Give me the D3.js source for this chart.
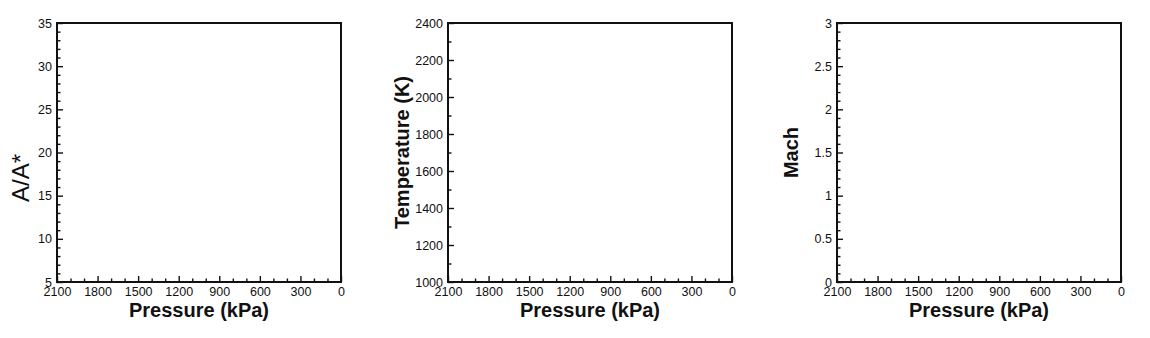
<!DOCTYPE html>
<html>
<head>
<meta charset="utf-8">
<script src="https://cdn.jsdelivr.net/npm/d3@7"></script>
<style>
  body { margin: 0; background: #fff; }
  svg text { font-family: "Liberation Sans", Arial, sans-serif; fill: #111; }
  .tick line, .minor line { stroke: #111; stroke-width: 1.4; }
</style>
</head>
<body>
<div id="chart"></div>
<script>
// shared x axis (pressure, reversed)
var pressureDomain = [2100, 0];
var pressureTicks = [2100, 1800, 1500, 1200, 900, 600, 300, 0];
var pressureMinorStep = 100;

// y axes for the three panels
var yTitles = ["A/A*", "Temperature (K)", "Mach"];
var yDomains = [[5, 35], [1000, 2400], [0, 3]];
var yTicks = [
  [5, 10, 15, 20, 25, 30, 35],
  [1000, 1200, 1400, 1600, 1800, 2000, 2200, 2400],
  [0, 0.5, 1, 1.5, 2, 2.5, 3]
];
var yMinorStep = [1, 100, 0.1];
var yTitleBold = [false, true, true];

(function(){

var width = 1150, height = 338;

var svg = d3.select("#chart")
  .append("svg")
  .attr("width", width)
  .attr("height", height);

// panel frames (left edges), all share the same top/bottom
var panelLeft = [57, 448, 837];
var pw = 284, plotTop = 23, plotBottom = 282;

function range(a, b, step) {
  var out = [];
  var n = Math.round((b - a) / step);
  for (var i = 0; i <= n; i++) out.push(+(a + i * step).toFixed(6));
  return out;
}

yTitles.forEach(function(title, k) {
  var g = svg.append("g").attr("transform", "translate(" + panelLeft[k] + ",0)");

  var x = d3.scaleLinear().domain(pressureDomain).range([0, pw]);
  var y = d3.scaleLinear().domain(yDomains[k]).range([plotBottom, plotTop]);

  // minor ticks first
  var xMinor = range(0, 2100, pressureMinorStep).filter(function(v) { return pressureTicks.indexOf(v) < 0; });
  g.append("g")
    .attr("class", "minor")
    .attr("transform", "translate(0," + plotBottom + ")")
    .call(d3.axisBottom(x).tickValues(xMinor).tickSize(-3.5).tickFormat(""))
    .call(function(s) { s.select(".domain").remove(); });

  var yMinor = range(yDomains[k][0], yDomains[k][1], yMinorStep[k]).filter(function(v) {
    return yTicks[k].indexOf(v) < 0;
  });
  g.append("g")
    .attr("class", "minor")
    .call(d3.axisLeft(y).tickValues(yMinor).tickSize(-3.5).tickFormat(""))
    .call(function(s) { s.select(".domain").remove(); });

  // major ticks + labels
  g.append("g")
    .attr("transform", "translate(0," + plotBottom + ")")
    .call(d3.axisBottom(x).tickValues(pressureTicks).tickSize(-6).tickPadding(5).tickFormat(d3.format("d")))
    .call(function(s) {
      s.select(".domain").remove();
      s.selectAll("text").style("font-size", "12.5px").attr("fill", "#111");
    });

  g.append("g")
    .call(d3.axisLeft(y).tickValues(yTicks[k]).tickSize(-6).tickPadding(5).tickFormat(d3.format("")))
    .call(function(s) {
      s.select(".domain").remove();
      s.selectAll("text").style("font-size", "12.5px").attr("fill", "#111");
    });

  // frame
  g.append("rect")
    .attr("x", 0)
    .attr("y", plotTop)
    .attr("width", pw)
    .attr("height", plotBottom - plotTop)
    .attr("fill", "none")
    .attr("stroke", "#111")
    .attr("stroke-width", 2);

  // x title
  g.append("text")
    .attr("x", pw / 2)
    .attr("y", 316.5)
    .attr("text-anchor", "middle")
    .style("font-size", "20px")
    .style("font-weight", "bold")
    .text("Pressure (kPa)");

  // y title
  var tx = yTitleBold[k] ? -39 : -28;
  var ty = yTitleBold[k] ? (plotTop + plotBottom) / 2 : 178;
  g.append("text")
    .attr("transform", "translate(" + tx + "," + ty + ") rotate(-90)")
    .attr("text-anchor", "middle")
    .style("font-size", yTitleBold[k] ? "20px" : "24px")
    .style("font-weight", yTitleBold[k] ? "bold" : "normal")
    .text(title);
});

})();
</script>
</body>
</html>
